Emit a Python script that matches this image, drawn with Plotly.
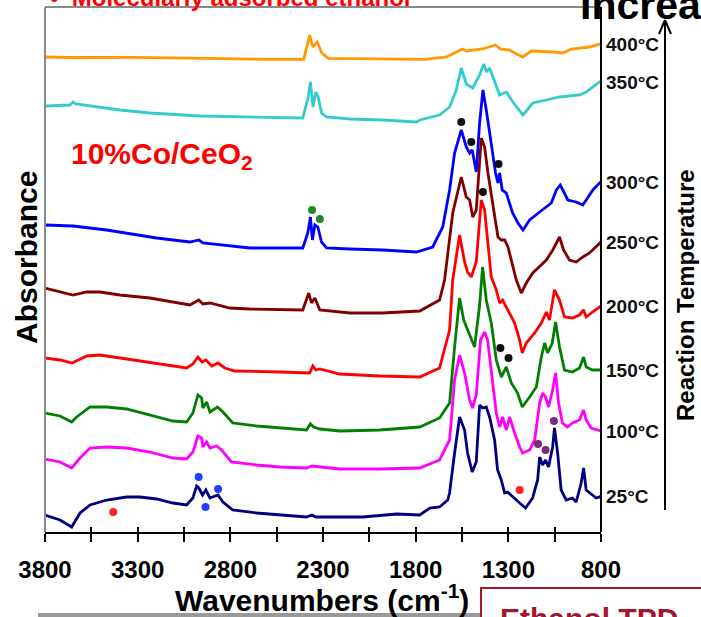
import plotly.graph_objects as go

# ---------------- data (wavenumber cm-1, absorbance a.u.) ----------------
spec_25C = [(3800,0.17),(3719,0.12),(3656,0.05),(3611,0.19),(3557,0.27),(3467,0.32),(3360,0.35),(3288,0.35),
            (3198,0.33),(3110,0.29),(3036,0.27),(3002,0.34),(2982,0.46),(2970,0.44),(2950,0.37),(2932,0.42),
            (2910,0.34),(2894,0.35),(2867,0.37),(2840,0.30),(2787,0.22),(2659,0.19),(2533,0.17),(2389,0.15),
            (2360,0.17),(2339,0.15),(2210,0.15),(2086,0.15),(1902,0.18),(1778,0.17),(1724,0.24),(1671,0.25),
            (1627,0.32),(1617,0.39),(1590,0.79),(1563,1.15),(1536,1.02),(1520,0.79),(1495,0.60),(1473,0.70),
            (1455,1.27),(1439,1.24),(1419,1.25),(1401,1.15),(1374,0.92),(1358,0.62),(1338,0.52),(1320,0.39),
            (1304,0.40),(1277,0.35),(1239,0.29),(1207,0.24),(1169,0.34),(1142,0.52),(1131,0.75),(1115,0.67),
            (1099,0.72),(1083,0.65),(1061,0.85),(1051,1.04),(1034,0.79),(1015,0.42),(988,0.32),(954,0.34),
            (934,0.30),(907,0.49),(894,0.64),(880,0.42),(862,0.39),(826,0.34),(808,0.35),(800,0.36)]

spec_100C = [(3800,0.73),(3719,0.70),(3656,0.64),(3611,0.74),(3557,0.84),(3467,0.85),(3360,0.84),(3234,0.80),
             (3110,0.74),(3036,0.73),(3002,0.80),(2975,0.96),(2955,0.94),(2948,0.85),(2928,0.90),(2910,0.84),
             (2874,0.86),(2847,0.82),(2794,0.70),(2659,0.67),(2533,0.65),(2389,0.64),(2360,0.66),(2210,0.63),
             (1994,0.63),(1778,0.64),(1671,0.72),(1617,0.92),(1590,1.52),(1563,1.77),(1536,1.59),(1509,1.32),
             (1493,1.24),(1473,1.37),(1450,1.92),(1428,2.00),(1412,1.92),(1392,1.62),(1365,1.19),(1347,1.05),
             (1331,1.15),(1311,1.02),(1293,1.15),(1266,0.99),(1239,0.85),(1223,0.79),(1185,0.82),(1158,0.92),
             (1131,1.29),(1115,1.39),(1099,1.35),(1083,1.25),(1061,1.42),(1045,1.59),(1029,1.29),(1008,1.09),
             (981,1.05),(954,1.09),(916,1.12),(894,1.22),(880,1.12),(853,1.04),(808,1.02),(800,1.01)]

spec_150C = [(3800,1.19),(3719,1.16),(3656,1.10),(3629,1.15),(3557,1.25),(3467,1.25),(3360,1.23),(3234,1.17),
             (3110,1.11),(3036,1.10),(3002,1.19),(2975,1.37),(2955,1.34),(2948,1.24),(2928,1.30),(2910,1.20),
             (2869,1.25),(2840,1.20),(2787,1.09),(2659,1.06),(2533,1.04),(2389,1.02),(2368,1.08),(2350,1.05),
             (2317,1.03),(2210,1.01),(1994,1.02),(1778,1.05),(1671,1.14),(1617,1.29),(1590,1.85),(1563,2.34),
             (1541,2.12),(1520,2.02),(1500,1.94),(1482,1.85),(1455,2.27),(1439,2.65),(1419,2.32),(1392,2.09),
             (1365,1.72),(1338,1.55),(1311,1.65),(1284,1.49),(1250,1.39),(1225,1.25),(1185,1.35),(1149,1.45),
             (1122,1.75),(1104,1.89),(1088,1.79),(1063,1.89),(1045,2.10),(1024,1.85),(997,1.62),(954,1.60),
             (916,1.64),(894,1.75),(880,1.65),(846,1.62),(808,1.62),(800,1.62)]

spec_200C = [(3800,1.74),(3719,1.72),(3654,1.69),(3575,1.76),(3503,1.77),(3396,1.74),(3234,1.70),(3036,1.64),
             (3002,1.68),(2975,1.75),(2953,1.70),(2932,1.72),(2900,1.66),(2867,1.69),(2830,1.64),(2776,1.61),
             (2533,1.60),(2372,1.59),(2355,1.66),(2339,1.62),(2317,1.63),(2210,1.58),(1994,1.56),(1778,1.55),
             (1671,1.64),(1617,2.02),(1600,2.52),(1581,2.77),(1563,2.97),(1536,2.70),(1520,2.60),(1500,2.55),
             (1473,2.70),(1446,3.32),(1428,3.22),(1412,2.92),(1392,2.55),(1365,2.42),(1347,2.29),(1331,2.32),
             (1304,2.22),(1266,2.09),(1239,1.92),(1225,1.79),(1203,1.89),(1158,1.99),(1122,2.09),(1095,2.20),
             (1078,2.12),(1051,2.42),(1024,2.32),(997,2.15),(954,2.14),(916,2.17),(894,2.22),(880,2.15),
             (846,2.20),(808,2.25),(800,2.26)]

spec_250C = [(3800,2.44),(3719,2.40),(3649,2.37),(3575,2.40),(3503,2.40),(3396,2.37),(3234,2.34),(3018,2.27),
             (2970,2.32),(2948,2.28),(2910,2.29),(2803,2.24),(2695,2.23),(2409,2.22),(2377,2.39),(2362,2.29),
             (2344,2.34),(2317,2.22),(2156,2.19),(1978,2.19),(1778,2.21),(1671,2.32),(1644,2.52),(1600,3.19),
             (1554,3.55),(1527,3.35),(1509,3.32),(1492,3.15),(1473,3.22),(1446,3.94),(1428,3.85),(1410,3.59),
             (1383,3.25),(1356,2.95),(1338,2.92),(1320,2.92),(1302,2.85),(1275,2.65),(1257,2.52),(1230,2.39),
             (1203,2.49),(1168,2.59),(1095,2.72),(1060,2.82),(1024,2.95),(1002,2.82),(970,2.72),(934,2.70),
             (898,2.75),(862,2.79),(808,2.89),(800,2.90)]

spec_300C = [(3800,3.07),(3649,3.06),(3467,3.02),(3288,2.97),(3198,2.94),(3018,2.90),(2970,2.92),(2948,2.89),
             (2857,2.87),(2695,2.84),(2409,2.84),(2382,2.99),(2368,3.15),(2357,2.92),(2344,3.07),(2328,3.05),
             (2308,2.90),(2281,2.84),(2156,2.83),(1976,2.82),(1796,2.80),(1708,2.85),(1654,3.05),(1617,3.42),
             (1590,3.79),(1554,4.02),(1527,3.85),(1509,3.79),(1495,3.82),(1473,3.60),(1455,4.09),(1437,4.42),
             (1419,4.22),(1392,3.89),(1369,3.59),(1356,3.49),(1347,3.59),(1333,3.42),(1311,3.39),(1277,3.19),
             (1248,3.09),(1221,3.02),(1185,3.12),(1131,3.20),(1095,3.25),(1068,3.29),(1041,3.42),(1020,3.47),
             (1006,3.42),(979,3.32),(934,3.30),(898,3.27),(880,3.32),(844,3.42),(808,3.49),(800,3.50)]

spec_350C = [(3800,4.26),(3665,4.27),(3649,4.30),(3633,4.28),(3396,4.22),(3234,4.19),(2964,4.16),(2695,4.15),
             (2409,4.14),(2380,4.35),(2368,4.50),(2354,4.25),(2339,4.40),(2326,4.35),(2308,4.19),(2281,4.15),
             (2156,4.13),(1976,4.12),(1796,4.10),(1778,4.12),(1671,4.17),(1617,4.25),(1581,4.42),(1554,4.64),
             (1527,4.48),(1492,4.44),(1455,4.57),(1433,4.68),(1417,4.60),(1401,4.64),(1374,4.50),(1347,4.37),
             (1311,4.40),(1275,4.30),(1221,4.17),(1168,4.29),(1095,4.32),(1024,4.35),(916,4.37),(880,4.40),
             (808,4.50),(800,4.50)]

spec_400C = [(3800,4.75),(3665,4.745),(3320,4.747),(2964,4.735),(2598,4.727),(2404,4.727),(2372,4.97),(2355,4.85),
             (2331,4.90),(2307,4.79),(2271,4.737),(1753,4.727),(1633,4.75),(1548,4.83),(1525,4.81),(1440,4.83),
             (1369,4.87),(1343,4.83),(1295,4.82),(1223,4.75),(1175,4.81),(1056,4.80),(1008,4.79),(959,4.83),
             (862,4.85),(803,4.88),(800,4.88)]

series_names = ["25°C", "100°C", "150°C", "200°C", "250°C", "300°C", "350°C", "400°C"]
series_data = [spec_25C, spec_100C, spec_150C, spec_200C, spec_250C, spec_300C, spec_350C, spec_400C]
series_colors = ["#000080", "#FF00FF", "#008000", "#FF0000", "#800000", "#0000FF", "#33CCCC", "#FF9900"]

# band-assignment markers (wavenumber, absorbance)
marks_black = [(1554, 4.10), (1500, 3.90), (1353, 3.68), (1437, 3.40), (1343, 1.84), (1299, 1.74)]
marks_green = [(2359, 3.22), (2317, 3.13)]
marks_blue = [(2971, 0.55), (2934, 0.25), (2866, 0.43)]
marks_red = [(3432, 0.20), (1239, 0.42)]
marks_purple = [(1140, 0.88), (1099, 0.82), (1054, 1.11)]

major_ticks = [3800, 3300, 2800, 2300, 1800, 1300, 800]
major_labels = ["3800", "3300", "2800", "2300", "1800", "1300", "800"]
minor_ticks = [3550, 3050, 2550, 2050, 1550, 1050]

# ---------------- figure ----------------
FONT = "Liberation Sans, Arial, sans-serif"
W, H = 701, 617
ML, MR, MT, MB = 45, 100, 7, 85
PW, PH = W - ML - MR, H - MT - MB


def pxx(x):
    return (x - ML) / PW


def pxy(y):
    return (H - MB - y) / PH


fig = go.Figure()

for name, data, color in zip(series_names, series_data, series_colors):
    xs = [p[0] for p in data]
    ys = [p[1] for p in data]
    fig.add_trace(go.Scatter(x=xs, y=ys, mode="lines", name=name,
                             line=dict(color=color, width=2.8), showlegend=False))
    fig.add_annotation(x=1.0, xref="paper", y=ys[-1], yref="y", xanchor="left", yanchor="middle",
                       xshift=3, text="<b>" + name + "</b>", showarrow=False,
                       font=dict(family=FONT, size=19, color="#111111"))

for pts, col in [(marks_black, "#111111"), (marks_green, "#1E8C1E"), (marks_blue, "#1F3FFF"),
                 (marks_red, "#FF2020"), (marks_purple, "#7A2A7A")]:
    fig.add_trace(go.Scatter(x=[p[0] for p in pts], y=[p[1] for p in pts], mode="markers",
                             marker=dict(color=col, size=8), showlegend=False, hoverinfo="skip"))

# dummy trace for the inner half of crossing ticks
fig.add_trace(go.Scatter(x=[3800], y=[0], xaxis="x2", mode="markers",
                         marker=dict(opacity=0), showlegend=False, hoverinfo="skip"))

tick_style = dict(ticklen=8, tickwidth=2, tickcolor="black")
fig.update_layout(
    width=W, height=H, autosize=False,
    margin=dict(l=ML, r=MR, t=MT, b=MB, autoexpand=False),
    paper_bgcolor="white", plot_bgcolor="white",
    xaxis=dict(range=[3800, 800], showgrid=False, zeroline=False, showline=True,
               linecolor="black", linewidth=2, ticks="outside", **tick_style,
               tickvals=major_ticks, ticktext=major_labels,
               minor=dict(tickvals=minor_ticks, ticks="outside", showgrid=False, **tick_style),
               tickfont=dict(family=FONT, size=24, color="black", weight="bold"),
               ticklabelstandoff=7),
    xaxis2=dict(range=[3800, 800], overlaying="x", side="bottom", showgrid=False, zeroline=False,
                showline=False, ticks="inside", ticklen=5, tickwidth=2, tickcolor="black",
                tickvals=major_ticks + minor_ticks, showticklabels=False),
    yaxis=dict(range=[0, PH / 100], showgrid=False, zeroline=False, showline=False,
               showticklabels=False, ticks=""),
)

shapes = [
    dict(type="line", xref="paper", yref="paper", x0=0, x1=1, y0=1, y1=1,
         line=dict(color="#8a8a8a", width=2)),
    dict(type="line", xref="paper", yref="paper", x0=0, x1=0, y0=0, y1=1,
         line=dict(color="#8a8a8a", width=2)),
    dict(type="line", xref="paper", yref="paper", x0=1, x1=1, y0=0, y1=1,
         line=dict(color="black", width=2)),
    # temperature arrow
    dict(type="line", xref="paper", yref="paper", x0=pxx(665), x1=pxx(665), y0=pxy(510), y1=pxy(21),
         line=dict(color="black", width=2)),
    dict(type="line", xref="paper", yref="paper", x0=pxx(665), x1=pxx(659), y0=pxy(20), y1=pxy(34),
         line=dict(color="black", width=2)),
    dict(type="line", xref="paper", yref="paper", x0=pxx(665), x1=pxx(671), y0=pxy(20), y1=pxy(34),
         line=dict(color="black", width=2)),
    # bottom grey bar and red box (cropped slide elements)
    dict(type="rect", xref="paper", yref="paper", x0=pxx(38), x1=pxx(481), y0=pxy(613), y1=pxy(625),
         fillcolor="#9a9a9a", line=dict(width=0)),
    dict(type="rect", xref="paper", yref="paper", x0=pxx(481), x1=pxx(730), y0=pxy(588), y1=pxy(660),
         fillcolor="white", line=dict(color="#A3162E", width=2)),
]
fig.update_layout(shapes=shapes)

ann = [
    dict(x=pxx(322), y=pxy(598), text="<b>Wavenumbers (cm<sup>-1</sup>)</b>", font=dict(size=30)),
    dict(x=pxx(26), y=pxy(258), text="<b>Absorbance</b>", textangle=-90, font=dict(size=30)),
    dict(x=pxx(685), y=pxy(295), text="<b>Reaction Temperature</b>", textangle=-90, font=dict(size=24)),
    dict(x=pxx(69), y=pxy(155), xanchor="left", text="<b>10%Co/CeO<sub>2</sub></b>",
         font=dict(size=30, color="#FF0000")),
    dict(x=pxx(48), y=pxy(13), xanchor="left", yanchor="bottom",
         text="<b>•  Molecularly adsorbed ethanol</b>", font=dict(size=24, color="#FF0000")),
    dict(x=pxx(578), y=pxy(30), xanchor="left", yanchor="bottom",
         text="<b>Increasing</b>", font=dict(size=41, color="black")),
    dict(x=pxx(498), y=pxy(600), xanchor="left", yanchor="top",
         text="<b>Ethanol TPD</b>", font=dict(size=30, color="#A3162E")),
]
for a in ann:
    a.setdefault("xref", "paper")
    a.setdefault("yref", "paper")
    a.setdefault("showarrow", False)
    a.setdefault("xanchor", "center")
    a.setdefault("yanchor", "middle")
    f = a["font"]
    f.setdefault("family", FONT)
    f.setdefault("color", "black")
    fig.add_annotation(**a)

fig.write_html("out.html")
